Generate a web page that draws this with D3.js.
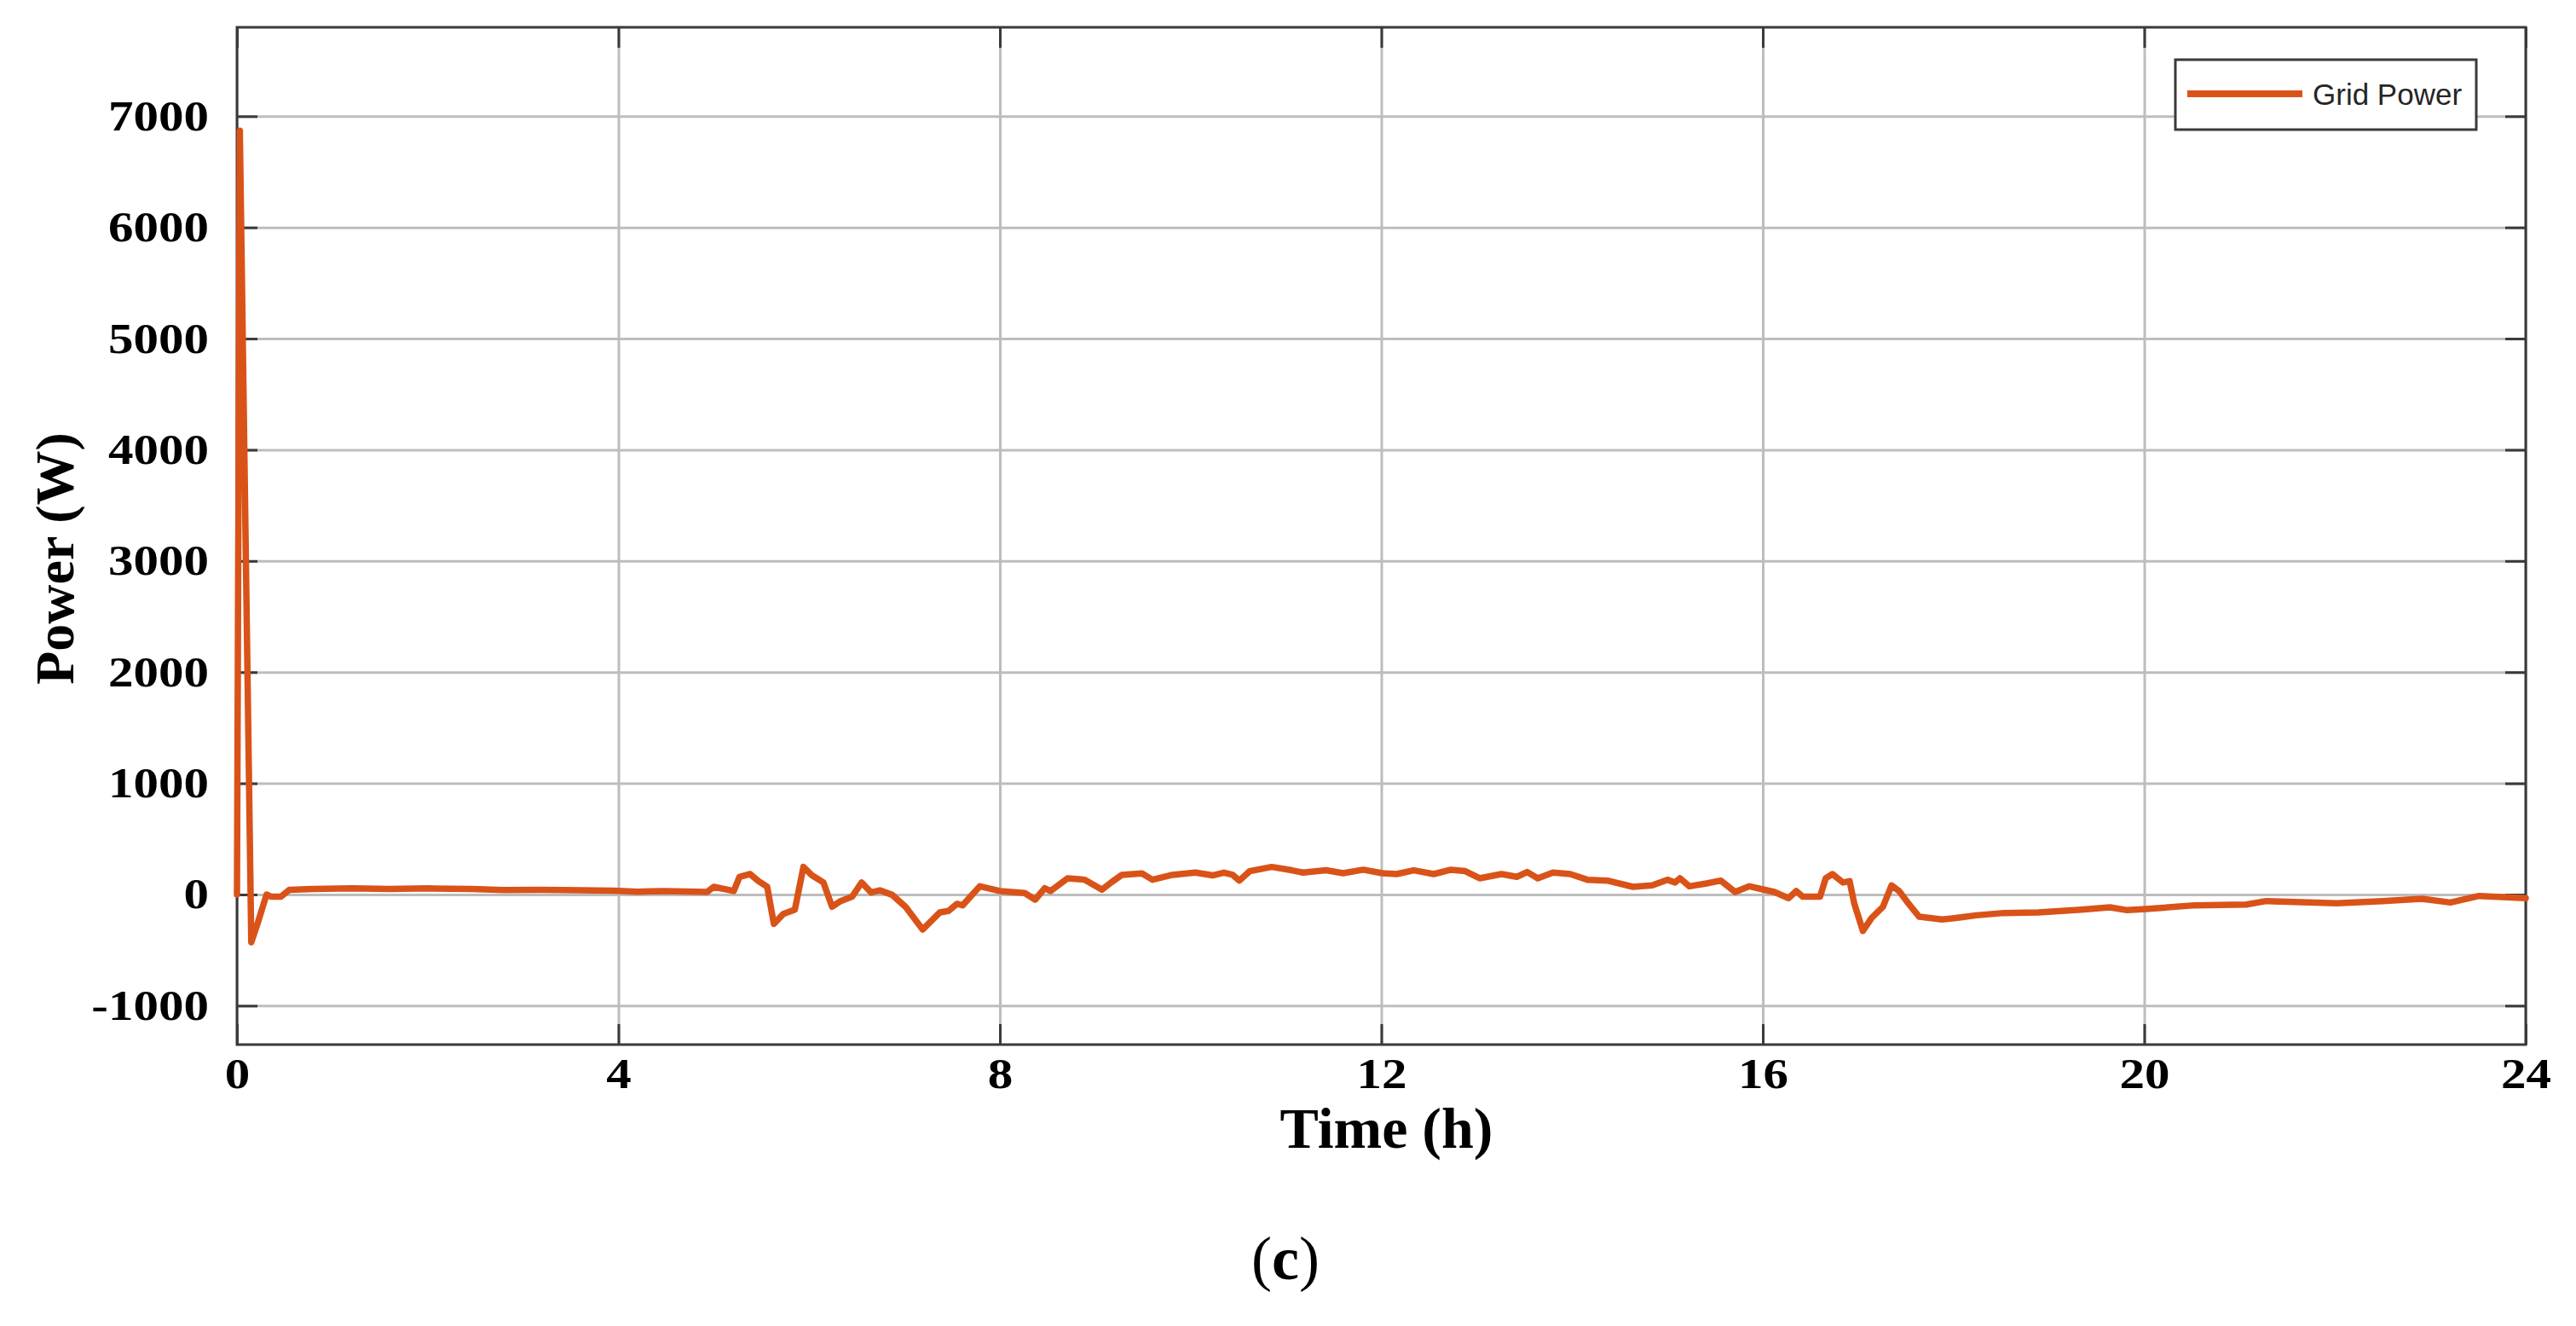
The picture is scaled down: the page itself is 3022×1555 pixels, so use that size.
<!DOCTYPE html>
<html>
<head>
<meta charset="utf-8">
<script src="https://cdn.jsdelivr.net/npm/d3@7"></script>
<style>
  html, body { margin: 0; padding: 0; background: #fff; }
  svg { display: block; }
</style>
</head>
<body>
<svg id="chart" width="3022" height="1555"></svg>
<script>
// ---- data ----
const timeH = [0, 0.03, 0.15, 0.22, 0.31, 0.36, 0.46, 0.55, 0.8, 1.2, 1.6, 2.0, 2.46, 2.8, 3.2, 3.6, 3.95, 4.2, 4.48, 4.93,
  5.0, 5.21, 5.27, 5.38, 5.47, 5.56, 5.63, 5.73, 5.85, 5.88, 5.94, 6.03, 6.15, 6.24, 6.33, 6.45, 6.55, 6.65, 6.74, 6.87,
  7.01, 7.19, 7.37, 7.46, 7.55, 7.61, 7.79, 8.0, 8.26, 8.37, 8.47, 8.53, 8.71, 8.89, 9.07, 9.17, 9.28, 9.49, 9.60, 9.81,
  10.05, 10.23, 10.35, 10.44, 10.51, 10.62, 10.85, 11.06, 11.18, 11.42, 11.60, 11.81, 12.01, 12.16, 12.34, 12.55, 12.73, 12.88, 13.03, 13.26,
  13.42, 13.53, 13.64, 13.80, 13.98, 14.16, 14.37, 14.64, 14.84, 15.0, 15.08, 15.13, 15.23, 15.41, 15.56, 15.71, 15.86, 16.01, 16.12, 16.27,
  16.35, 16.42, 16.60, 16.66, 16.73, 16.84, 16.91, 16.96, 17.05, 17.14, 17.26, 17.35, 17.43, 17.53, 17.64, 17.88, 18.06, 18.24, 18.53, 18.89,
  19.34, 19.64, 19.82, 20.02, 20.53, 21.07, 21.28, 22.02, 22.5, 22.91, 23.21, 23.51, 24.0];
const gridPowerW = [0, 6870, -430, -250, 0, -20, -20, 43, 50, 55, 50, 55, 50, 40, 42, 38, 35, 25, 31, 23,
  69, 31, 159, 184, 120, 69, -264, -174, -136, -8, 248, 172, 108, -110, -59, -20, 108, 18, 38, -3,
  -110, -315, -161, -148, -84, -97, 74, 31, 13, -46, 56, 31, 146, 133, 44, 110, 177, 189, 133, 177,
  197, 172, 197, 177, 125, 210, 248, 218, 197, 218, 192, 223, 192, 184, 218, 184, 223, 210, 146, 184,
  159, 202, 146, 197, 184, 133, 125, 69, 82, 133, 108, 146, 74, 100, 125, 23, 74, 44, 23, -33,
  31, -20, -20, 146, 184, 108, 120, -84, -328, -212, -110, 82, 31, -84, -200, -225, -207, -187, -166, -161,
  -136, -115, -141, -131, -97, -90, -59, -79, -60, -38, -72, -13, -33];
const xTicks = [0, 4, 8, 12, 16, 20, 24];
const yTicks = [-1000, 0, 1000, 2000, 3000, 4000, 5000, 6000, 7000];
const seriesName = "Grid Power";
const xLabel = "Time (h)";
const yLabel = "Power (W)";
const panelTag = "c";

// ---- layout ----
const L = 278, R = 2963, T = 32, B = 1225;
const W = R - L, H = B - T;
const orange = "#D95319";
const serif = "'Liberation Serif', 'Times New Roman', serif";
const sans = "'Liberation Sans', Arial, sans-serif";

const svg = d3.select("#chart");
const x = d3.scaleLinear().domain([0, 24]).range([L, R]);
const y = d3.scaleLinear().domain([-1350, 7800]).range([B, T]);

// gridlines
const grid = svg.append("g");
grid.append("g").attr("transform", `translate(0,${B})`)
  .call(d3.axisBottom(x).tickValues(xTicks).tickSize(-H).tickFormat(""))
  .call(g => g.select(".domain").remove());
grid.append("g").attr("transform", `translate(${L},0)`)
  .call(d3.axisLeft(y).tickValues(yTicks).tickSize(-W).tickFormat(""))
  .call(g => g.select(".domain").remove());
grid.selectAll("line").attr("stroke", "#bdbdbd").attr("stroke-width", 3);

// frame
svg.append("rect").attr("x", L).attr("y", T).attr("width", W).attr("height", H)
  .attr("fill", "none").attr("stroke", "#3a3a3a").attr("stroke-width", 3);

// inward ticks + labels
const tk = 24;
const fmt = d => String(d);
const xAxisB = svg.append("g").attr("transform", `translate(0,${B})`)
  .call(d3.axisBottom(x).tickValues(xTicks).tickSizeInner(-tk).tickSizeOuter(0).tickPadding(15).tickFormat(fmt));
const xAxisT = svg.append("g").attr("transform", `translate(0,${T})`)
  .call(d3.axisTop(x).tickValues(xTicks).tickSizeInner(-tk).tickSizeOuter(0).tickFormat(""));
const yAxisL = svg.append("g").attr("transform", `translate(${L},0)`)
  .call(d3.axisLeft(y).tickValues(yTicks).tickSizeInner(-tk).tickSizeOuter(0).tickPadding(33).tickFormat(fmt));
const yAxisR = svg.append("g").attr("transform", `translate(${R},0)`)
  .call(d3.axisRight(y).tickValues(yTicks).tickSizeInner(-tk).tickSizeOuter(0).tickFormat(""));
[xAxisB, xAxisT, yAxisL, yAxisR].forEach(a => {
  a.select(".domain").remove();
  a.selectAll(".tick line").attr("stroke", "#3a3a3a").attr("stroke-width", 3);
  a.selectAll("text").attr("font-family", serif).attr("font-weight", "bold")
    .attr("font-size", 50).attr("fill", "#000");
});
// the reference digits are slightly wide: stretch horizontally
[xAxisB, yAxisL].forEach(a => {
  a.selectAll(".tick text").each(function () {
    const w = this.getComputedTextLength();
    d3.select(this).attr("textLength", w * 1.18).attr("lengthAdjust", "spacingAndGlyphs");
  });
});

// axis titles
svg.append("text").attr("x", (L + R) / 2 + 6).attr("y", 1346).attr("text-anchor", "middle")
  .attr("font-family", serif).attr("font-weight", "bold").attr("font-size", 68).text(xLabel);
svg.append("text").attr("transform", `translate(86,655) rotate(-90)`).attr("text-anchor", "middle")
  .attr("font-family", serif).attr("font-weight", "bold").attr("font-size", 64).text(yLabel);

// panel tag "(c)"
const tag = svg.append("text").attr("x", 1508).attr("y", 1500).attr("text-anchor", "middle")
  .attr("font-family", serif).attr("font-size", 72);
tag.append("tspan").text("(");
tag.append("tspan").attr("font-weight", "bold").text(panelTag);
tag.append("tspan").text(")");

// data line
const pts = timeH.map((t, i) => [t, gridPowerW[i]]);
svg.append("path").datum(pts)
  .attr("d", d3.line().x(d => x(d[0])).y(d => y(d[1])))
  .attr("fill", "none").attr("stroke", orange).attr("stroke-width", 7.5)
  .attr("stroke-linejoin", "round").attr("stroke-linecap", "round");

// legend
const lg = svg.append("g");
lg.append("rect").attr("x", 2552).attr("y", 70).attr("width", 353).attr("height", 82)
  .attr("fill", "#fff").attr("stroke", "#3a3a3a").attr("stroke-width", 3);
lg.append("line").attr("x1", 2566).attr("x2", 2701).attr("y1", 110).attr("y2", 110)
  .attr("stroke", orange).attr("stroke-width", 8);
lg.append("text").attr("x", 2713).attr("y", 123).attr("font-family", sans)
  .attr("font-size", 35).attr("fill", "#262626").text(seriesName);
</script>
</body>
</html>
